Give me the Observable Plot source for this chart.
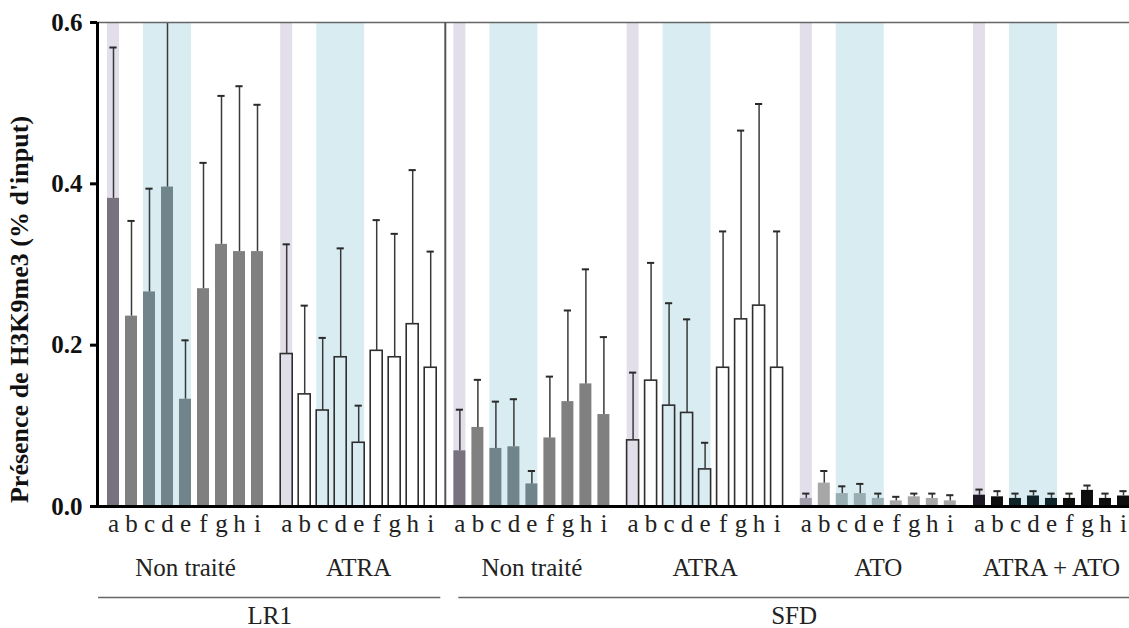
<!DOCTYPE html>
<html><head><meta charset="utf-8">
<script src="https://cdn.jsdelivr.net/npm/d3@7"></script>
<script src="https://cdn.jsdelivr.net/npm/@observablehq/plot@0.6"></script>
<style>body{margin:0;background:#fff}#chart svg{display:block}</style>
</head><body><div id="chart"></div>
<script>
// ---- data ----
const letters = ["a","b","c","d","e","f","g","h","i"];
const groups = ["Non traité","ATRA","Non traité","ATRA","ATO","ATRA + ATO"];
const cellLines = ["LR1","SFD"];
const groupCellLine = [0,0,1,1,1,1];
const groupStyle = ["grey","open","grey","open","light","black"];

const meanLR1NT = [0.382,0.236,0.266,0.396,0.133,0.270,0.325,0.316,0.316];
const sdLR1NT   = [0.187,0.118,0.128,0.250,0.073,0.156,0.184,0.205,0.182];
const meanLR1ATRA = [0.189,0.139,0.119,0.185,0.079,0.193,0.185,0.226,0.172];
const sdLR1ATRA   = [0.136,0.110,0.090,0.135,0.046,0.162,0.153,0.191,0.144];
const meanSFDNT = [0.069,0.098,0.072,0.074,0.028,0.085,0.130,0.152,0.114];
const sdSFDNT   = [0.051,0.059,0.058,0.059,0.016,0.076,0.113,0.142,0.096];
const meanSFDATRA = [0.082,0.156,0.125,0.116,0.046,0.172,0.232,0.249,0.172];
const sdSFDATRA   = [0.084,0.146,0.127,0.116,0.033,0.169,0.234,0.250,0.169];
const meanSFDATO = [0.010,0.029,0.016,0.016,0.010,0.007,0.012,0.010,0.007];
const sdSFDATO   = [0.006,0.015,0.009,0.012,0.006,0.005,0.004,0.006,0.007];
const meanSFDBoth = [0.014,0.012,0.010,0.013,0.010,0.010,0.020,0.010,0.013];
const sdSFDBoth   = [0.007,0.007,0.006,0.006,0.006,0.006,0.006,0.006,0.006];

const yTicks = [0, 0.2, 0.4, 0.6];
const yLabel = "Présence de H3K9me3 (% d'input)";

// ---- layout / style ----
const means = [meanLR1NT, meanLR1ATRA, meanSFDNT, meanSFDATRA, meanSFDATO, meanSFDBoth];
const sds = [sdLR1NT, sdLR1ATRA, sdSFDNT, sdSFDATRA, sdSFDATO, sdSFDBoth];
const STEP = 9.622, HALF = 0.333, CAP = 0.2;
const palette = {
  grey:  {base: "#808080", a: "#78727f", cde: "#6f858b"},
  light: {base: "#a7a7a7", a: "#a29dab", cde: "#99aeb3"},
  black: {base: "#0e0e0e", a: "#1d1723", cde: "#0f2428"}
};
const bandA = "#e2deea", bandCDE = "#d8ecf2";
const serif = "Liberation Serif, Times New Roman, serif";

const rows = [];
groups.forEach((g, gi) => letters.forEach((l, k) => {
  const style = groupStyle[gi];
  const zone = k === 0 ? "a" : (k >= 2 && k <= 4 ? "cde" : "base");
  rows.push({gi, k, letter: l, x: gi * STEP + k, mean: means[gi][k], top: means[gi][k] + sds[gi][k],
    open: style === "open", fill: style === "open" ? null : palette[style][zone]});
}));
const bands = [];
groups.forEach((g, gi) => {
  bands.push({x1: gi * STEP - HALF, x2: gi * STEP + HALF, fill: bandA});
  bands.push({x1: gi * STEP + 2 - HALF, x2: gi * STEP + 4 + HALF, fill: bandCDE});
});
const groupLabels = groups.map((g, gi) => ({x: gi * STEP + 4, text: g}));
const sep = (1 * STEP + 8 + 2 * STEP) / 2;
const xMin = -0.889, xMax = 56.444;
const lineLabels = [
  {x1: xMin + 0.06, x2: sep - 0.25, text: cellLines[0]},
  {x1: sep + 0.75, x2: xMax, text: cellLines[1]}
];

const chart = Plot.plot({
  width: 1129, height: 628,
  marginLeft: 97, marginRight: 0, marginTop: 22, marginBottom: 122,
  x: {domain: [xMin, xMax], axis: null},
  y: {domain: [0, 0.6], axis: null},
  color: {type: "identity"},
  style: {fontFamily: serif, background: "#fff", overflow: "visible"},
  marks: [
    Plot.rectY(bands, {x1: "x1", x2: "x2", y1: 0, y2: 0.6, fill: "fill"}),
    Plot.rectY(rows.filter(d => !d.open), {x1: d => d.x - HALF, x2: d => d.x + HALF, y1: 0, y2: "mean", fill: "fill"}),
    Plot.rectY(rows.filter(d => d.open), {x1: d => d.x - HALF, x2: d => d.x + HALF, y1: 0, y2: "mean", fill: "none", stroke: "#2e2e2e", strokeWidth: 1.6}),
    Plot.ruleX(rows, {x: "x", y1: "mean", y2: "top", stroke: "#3a3a3a", strokeWidth: 1.5, clip: true}),
    Plot.ruleY(rows, {y: "top", x1: d => d.x - CAP, x2: d => d.x + CAP, stroke: "#2a2a2a", strokeWidth: 2, clip: true}),
    Plot.ruleY([0.6], {stroke: "#666", strokeWidth: 1.5}),
    Plot.ruleX([sep], {y1: 0, y2: 0.6, stroke: "#555", strokeWidth: 2}),
    Plot.ruleX([xMin], {y1: 0, y2: 0.6, stroke: "#000", strokeWidth: 3}),
    Plot.ruleY([0], {stroke: "#000", strokeWidth: 3}),
    Plot.axisY(yTicks, {tickFormat: d3.format(".1f"), tickSize: 7, tickPadding: 8, fontSize: 25, fontWeight: "bold", strokeWidth: 3, stroke: "#000", fill: "#111", label: null}),
    Plot.text([yLabel], {frameAnchor: "left", textAnchor: "middle", rotate: -90, dx: -78, dy: 45, fontSize: 26, fontWeight: "bold", fill: "#111"}),
    Plot.text(rows, {x: "x", y: 0, text: "letter", dy: 25, lineAnchor: "bottom", fontSize: 25, fill: "#222"}),
    Plot.text(groupLabels, {x: "x", y: 0, text: "text", dy: 69, lineAnchor: "bottom", fontSize: 25, fill: "#222"}),
    Plot.ruleY(lineLabels, {y: () => 0, x1: "x1", x2: "x2", dy: 91, stroke: "#666", strokeWidth: 1.5}),
    Plot.text(lineLabels, {x: d => (d.x1 + d.x2) / 2, y: 0, text: "text", dy: 117, lineAnchor: "bottom", fontSize: 25, fill: "#222"})
  ]
});
document.getElementById("chart").appendChild(chart);
</script>
</body></html>
